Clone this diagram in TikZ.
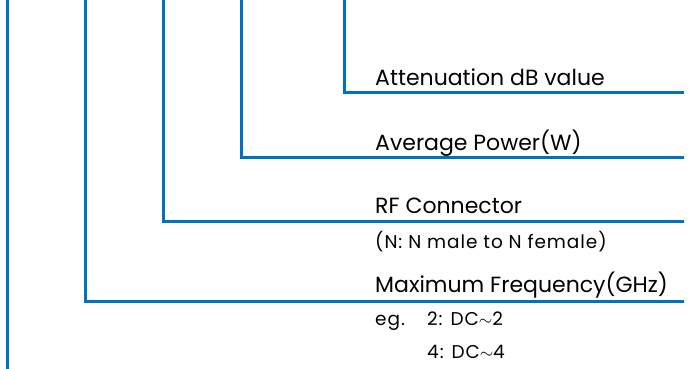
\documentclass[tikz,border=0pt]{standalone}
\usepackage{fontspec}
\setmainfont{Poppins}
\newfontfamily\widefont[LetterSpace=5]{Poppins}
\usepackage{tikz}
\usetikzlibrary{positioning}
\definecolor{leaderblue}{RGB}{0, 112, 192}

\begin{document}
\begin{tikzpicture}[x=1pt, y=-1pt,
  leader/.style={draw=leaderblue, line width=3pt},
  bigtext/.style={anchor=base west, inner sep=0pt, font=\fontsize{22}{24}\selectfont},
  smalltext/.style={anchor=base west, inner sep=0pt, font=\widefont\fontsize{18.5}{20}\selectfont}
]
  \useasboundingbox (0, 0) rectangle (689, 369);

  % labels
  \node[bigtext] (atten) at (375, 86) {Attenuation dB value};
  \node[bigtext] (power) at (375, 150) {Average Power(W)};
  \node[bigtext] (conn) at (375, 213) {RF Connector};
  \node[smalltext] (conninfo) at (375, 248) {(N: N male to N female)};
  \node[bigtext] (freq) at (375, 292) {Maximum Frequency(GHz)};
  \node[smalltext] (eg) at (375, 325) {eg.};
  \node[smalltext] (egtwo) at (427, 325) {2: DC$\sim$2};
  \node[smalltext] (egfour) at (427, 358) {4: DC$\sim$4};

  % leader lines
  \coordinate (top0) at (7.5, -2);
  \coordinate (bot0) at (7.5, 371);
  \coordinate (top1) at (85, -2);
  \coordinate (end1) at (684, 301);
  \coordinate (top2) at (163, -2);
  \coordinate (end2) at (684, 221);
  \coordinate (top3) at (241, -2);
  \coordinate (end3) at (684, 157);
  \coordinate (top4) at (344, -2);
  \coordinate (end4) at (684, 93);

  \draw[leader] (top0) -- (bot0);
  \draw[leader] (top1) |- (end1);
  \draw[leader] (top2) |- (end2);
  \draw[leader] (top3) |- (end3);
  \draw[leader] (top4) |- (end4);
\end{tikzpicture}
\end{document}
